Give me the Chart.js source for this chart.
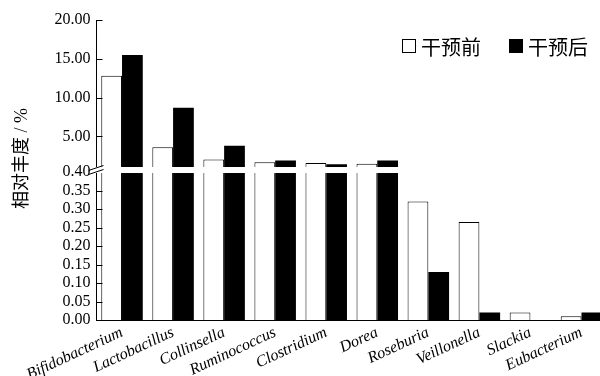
<!DOCTYPE html>
<html>
<head>
<meta charset="utf-8">
<script src="https://cdn.jsdelivr.net/npm/chart.js@4/dist/chart.umd.min.js"></script>
<style>
  html, body { margin: 0; padding: 0; overflow: hidden; background: #fff; }
  canvas { display: block; }
</style>
</head>
<body>
<canvas id="abundance" width="612" height="376"></canvas>
<script>
// Genus-level relative abundance (%) before and after the intervention
const genera = ['Bifidobacterium', 'Lactobacillus', 'Collinsella', 'Ruminococcus', 'Clostridium',
                'Dorea', 'Roseburia', 'Veillonella', 'Slackia', 'Eubacterium'];
const beforeValues = [12.8, 3.6, 2.0, 1.65, 1.56, 1.47, 0.32, 0.265, 0.02, 0.01];
const afterValues  = [15.5, 8.7, 3.8, 1.9, 1.39, 1.9, 0.13, 0.02, 0, 0.02];
const seriesNames = ['干预前', '干预后'];
const yTickValues = [0, 0.05, 0.10, 0.15, 0.20, 0.25, 0.30, 0.35, 0.40, 5, 10, 15, 20];
const yTitle = '相对丰度 / %';
const axisBreak = 0.40;     // value where the y axis switches segments
const lowerShare = 0.4933;  // share of the plot height given to 0 – axisBreak

// Piecewise linear y scale: 0..axisBreak in the lower part, axisBreak..max above it
const Linear = Chart.LinearScale || Chart.registry.getScale('linear');
class BrokenLinearScale extends Linear {
  splitPixel() {
    return this.bottom - (this.bottom - this.top) * lowerShare;
  }
  getPixelForValue(v) {
    if (v === null || v === undefined || isNaN(v)) return NaN;
    const mid = this.splitPixel();
    if (v <= axisBreak) {
      return this.bottom - (v - this.min) / (axisBreak - this.min) * (this.bottom - mid);
    }
    return mid - (v - axisBreak) / (this.max - axisBreak) * (mid - this.top);
  }
  getValueForPixel(p) {
    const mid = this.splitPixel();
    if (p >= mid) {
      return this.min + (this.bottom - p) / (this.bottom - mid) * (axisBreak - this.min);
    }
    return axisBreak + (mid - p) / (mid - this.top) * (this.max - axisBreak);
  }
}
BrokenLinearScale.id = 'brokenLinear';
BrokenLinearScale.defaults = Linear.defaults;
Chart.register(BrokenLinearScale);

// Inward tick marks, the white gap across the bars, the // break symbol,
// the rotated y title and an in-plot legend
const axisDecor = {
  id: 'axisDecor',
  afterDatasetsDraw(chart) {
    const { ctx, chartArea } = chart;
    const y = chart.scales.y;
    const x0 = chartArea.left;
    ctx.save();
    ctx.strokeStyle = '#000';
    ctx.lineWidth = 1;
    y.ticks.forEach(t => {
      const py = Math.round(y.getPixelForValue(t.value)) + 0.5;
      ctx.beginPath();
      ctx.moveTo(x0, py);
      ctx.lineTo(x0 + 6, py);
      ctx.stroke();
    });
    const pb = y.getPixelForValue(axisBreak);
    ctx.fillStyle = '#fff';
    ctx.fillRect(x0 - 1, pb - 5, chart.width, 6);
    const mid = pb - 2;
    ctx.beginPath();
    for (const dy of [-2, 2]) {
      ctx.moveTo(x0 - 8, mid + dy + 2.5);
      ctx.lineTo(x0 + 7, mid + dy - 2.5);
    }
    ctx.stroke();
    ctx.restore();
  },
  afterDraw(chart) {
    const { ctx, chartArea } = chart;
    ctx.save();
    ctx.translate(22.5, (chartArea.top + chartArea.bottom) / 2 - 11.5);
    ctx.rotate(-Math.PI / 2);
    ctx.textAlign = 'center';
    ctx.textBaseline = 'middle';
    ctx.fillStyle = '#000';
    ctx.font = '18px "Liberation Serif", "Noto Sans CJK SC"';
    ctx.fillText(yTitle, 0, 0);
    ctx.restore();

    // legend, right-aligned near the top of the plot
    ctx.save();
    ctx.font = '20px "Noto Sans CJK SC"';
    ctx.textBaseline = 'middle';
    ctx.textAlign = 'left';
    const box = 14, gap = 5, spacing = 28;
    const items = chart.data.datasets.map(ds => ({
      ds, w: box + gap + ctx.measureText(ds.label).width
    }));
    const total = items.reduce((s, it) => s + it.w, 0) + spacing * (items.length - 1);
    let x = 588 - total;
    const cy = chartArea.top + 26;
    items.forEach(({ ds, w }) => {
      ctx.fillStyle = ds.backgroundColor;
      ctx.fillRect(x, cy - box / 2, box, box);
      ctx.strokeStyle = '#000';
      ctx.lineWidth = 1;
      ctx.strokeRect(x + 0.5, cy - box / 2 + 0.5, box - 1, box - 1);
      ctx.fillStyle = '#000';
      ctx.fillText(ds.label, x + box + gap, cy + 1);
      x += w + spacing;
    });
    ctx.restore();
  }
};

Chart.defaults.color = '#000';

new Chart(document.getElementById('abundance'), {
  type: 'bar',
  data: {
    labels: genera,
    datasets: [
      {
        label: seriesNames[0],
        data: beforeValues,
        backgroundColor: '#fff',
        borderColor: '#000',
        borderWidth: 1,
        categoryPercentage: 0.813,
        barPercentage: 1
      },
      {
        label: seriesNames[1],
        data: afterValues,
        backgroundColor: '#000',
        borderColor: '#000',
        borderWidth: 0,
        categoryPercentage: 0.813,
        barPercentage: 1
      }
    ]
  },
  options: {
    responsive: false,
    animation: false,
    devicePixelRatio: 1,
    layout: { padding: { left: 0, top: 20, right: 5, bottom: 0 } },
    plugins: {
      tooltip: { enabled: false },
      legend: { display: false }
    },
    scales: {
      x: {
        type: 'category',
        offset: true,
        grid: { display: false, drawTicks: false },
        border: { display: true, color: '#000', width: 1 },
        ticks: {
          autoSkip: false,
          minRotation: 25,
          maxRotation: 25,
          padding: 3,
          color: '#000',
          font: { family: '"Liberation Serif"', size: 16, style: 'italic' }
        },
        afterFit(scale) { scale.height = 56; }
      },
      y: {
        type: 'brokenLinear',
        min: 0,
        max: 20,
        grid: { display: false, drawTicks: false },
        border: { display: true, color: '#000', width: 1 },
        afterBuildTicks(scale) { scale.ticks = yTickValues.map(v => ({ value: v })); },
        ticks: {
          autoSkip: false,
          padding: 6,
          color: '#000',
          font: { family: '"Liberation Serif"', size: 16 },
          callback: v => Number(v).toFixed(2)
        },
        afterFit(scale) { scale.width = 96.5; }
      }
    }
  },
  plugins: [axisDecor]
});
</script>
</body>
</html>
